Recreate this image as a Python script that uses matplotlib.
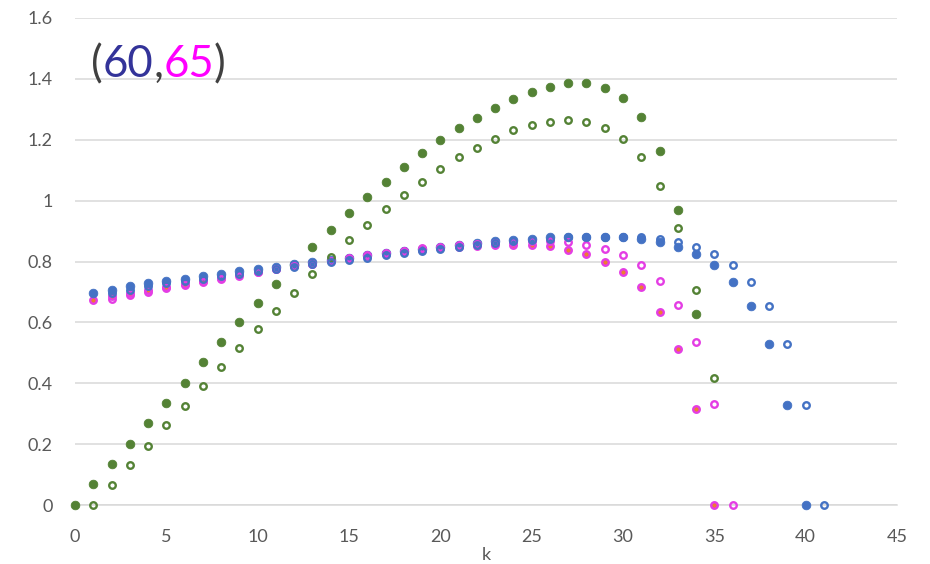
import numpy as np
import matplotlib
matplotlib.use('Agg')
import matplotlib.pyplot as plt

plt.rcParams['font.family'] = ['Lato', 'DejaVu Sans']

# valorile citite de pe grafic
# seria verde (plin / gol)
k_verde_plin = np.arange(0, 35)
verde_plin = [0.0, 0.069, 0.136, 0.202, 0.269, 0.336, 0.402, 0.469, 0.535, 0.600,
              0.664, 0.726, 0.788, 0.846, 0.904, 0.960, 1.012, 1.062, 1.110, 1.155,
              1.198, 1.237, 1.272, 1.304, 1.334, 1.356, 1.374, 1.385, 1.385, 1.371,
              1.336, 1.275, 1.164, 0.968, 0.627]
k_verde_gol = np.arange(1, 36)
verde_gol = [0.0, 0.067, 0.130, 0.195, 0.262, 0.326, 0.390, 0.454, 0.517, 0.578,
             0.639, 0.698, 0.759, 0.815, 0.870, 0.921, 0.971, 1.019, 1.062, 1.105,
             1.142, 1.174, 1.203, 1.231, 1.248, 1.259, 1.265, 1.259, 1.237, 1.203,
             1.142, 1.049, 0.910, 0.707, 0.417]

# seria albastra
k_albastru_plin = np.arange(1, 41)
albastru_plin = [0.696, 0.708, 0.718, 0.728, 0.736, 0.744, 0.752, 0.760, 0.768, 0.776,
                 0.783, 0.791, 0.798, 0.806, 0.813, 0.820, 0.828, 0.835, 0.842, 0.849,
                 0.855, 0.861, 0.866, 0.871, 0.875, 0.879, 0.881, 0.882, 0.882, 0.880,
                 0.875, 0.865, 0.846, 0.823, 0.788, 0.734, 0.654, 0.529, 0.327, 0.0]
k_albastru_gol = np.arange(2, 42)
albastru_gol = [0.696, 0.708, 0.718, 0.728, 0.736, 0.744, 0.752, 0.760, 0.768, 0.776,
                0.783, 0.791, 0.798, 0.806, 0.813, 0.820, 0.828, 0.835, 0.842, 0.849,
                0.855, 0.861, 0.866, 0.871, 0.875, 0.879, 0.881, 0.882, 0.882, 0.880,
                0.875, 0.865, 0.846, 0.823, 0.788, 0.734, 0.654, 0.529, 0.327, 0.0]

# seria magenta
k_magenta_plin = np.arange(1, 36)
magenta_plin = [0.675, 0.686, 0.697, 0.707, 0.717, 0.727, 0.737, 0.746, 0.758, 0.767,
                0.776, 0.785, 0.793, 0.802, 0.810, 0.818, 0.826, 0.833, 0.839, 0.845,
                0.849, 0.852, 0.854, 0.855, 0.853, 0.850, 0.838, 0.825, 0.800, 0.766,
                0.716, 0.635, 0.512, 0.317, 0.0]
k_magenta_gol = np.arange(2, 37)
magenta_gol = [0.678, 0.690, 0.701, 0.712, 0.722, 0.732, 0.743, 0.753, 0.764, 0.774,
               0.784, 0.793, 0.802, 0.811, 0.820, 0.828, 0.836, 0.843, 0.849, 0.855,
               0.859, 0.862, 0.864, 0.866, 0.866, 0.863, 0.854, 0.841, 0.820, 0.787,
               0.737, 0.657, 0.534, 0.333, 0.0]

y_ticks = [0, 0.2, 0.4, 0.6, 0.8, 1.0, 1.2, 1.4, 1.6]
y_labels = ['0', '0.2', '0.4', '0.6', '0.8', '1', '1.2', '1.4', '1.6']
x_ticks = [0, 5, 10, 15, 20, 25, 30, 35, 40, 45]

verde = '#548235'
albastru = '#4472C4'
magenta = '#E43DE4'
portocaliu = '#ED7D31'
gri = '#595959'

fig = plt.figure(figsize=(9.3, 5.64), dpi=100)
ax = fig.add_axes([75 / 930, 1 - 505 / 564, 822 / 930, 487 / 564])

plin = dict(linestyle='none', marker='o', markersize=6.2, markeredgewidth=0.6, clip_on=False)
gol = dict(linestyle='none', marker='o', markersize=4.7, markeredgewidth=1.7,
           markerfacecolor='none', clip_on=False)

ax.plot(k_magenta_plin, magenta_plin, linestyle='none', marker='o', markersize=4.7,
        markeredgewidth=1.7, markerfacecolor=portocaliu, markeredgecolor=magenta,
        clip_on=False, zorder=3)
ax.plot(k_verde_plin, verde_plin, color=verde, zorder=3, **plin)
ax.plot(k_albastru_plin, albastru_plin, color=albastru, zorder=3, **plin)
ax.plot(k_magenta_gol, magenta_gol, markeredgecolor=magenta, zorder=4, **gol)
ax.plot(k_verde_gol, verde_gol, markeredgecolor=verde, zorder=4, **gol)
ax.plot(k_albastru_gol, albastru_gol, markeredgecolor=albastru, zorder=4, **gol)

ax.set_xlim(0, 45)
ax.set_ylim(0, 1.6)
ax.set_xticks(x_ticks)
ax.set_yticks(y_ticks)
ax.set_yticklabels(y_labels)
ax.grid(axis='y', color='#D9D9D9', linewidth=1.1)
ax.set_axisbelow(True)
for s in ['top', 'right', 'left']:
    ax.spines[s].set_visible(False)
ax.spines['bottom'].set_color('#D9D9D9')
ax.spines['bottom'].set_linewidth(1.1)
ax.tick_params(axis='both', length=0, labelsize=13, labelcolor=gri)
ax.tick_params(axis='x', pad=17)
ax.tick_params(axis='y', pad=16)
ax.set_xlabel('k', fontsize=13, color=gri, labelpad=2)

# titlul colorat (60,65)
parti = [('(', '#404040'), ('60', '#333399'), (',', '#404040'),
         ('65', '#FF00FF'), (')', '#404040')]
t = fig.text(91 / 930, 1 - 85 / 564, parti[0][0], color=parti[0][1],
             fontsize=31.5, ha='left', va='bottom')
for txt, c in parti[1:]:
    t = ax.annotate(txt, xy=(1, 0), xycoords=t, color=c, fontsize=31.5,
                    ha='left', va='bottom', annotation_clip=False)

fig.savefig('out.png', dpi=100)
